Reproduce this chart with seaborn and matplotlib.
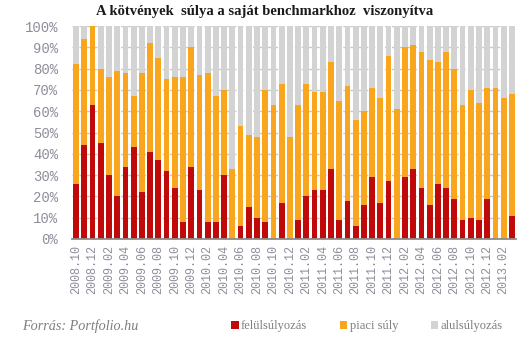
import matplotlib
matplotlib.use("Agg")
import matplotlib.pyplot as plt
import seaborn as sns
import numpy as np
import pandas as pd
from matplotlib.patches import Patch

months = ["2008.10", "2008.11", "2008.12", "2009.01", "2009.02", "2009.03", "2009.04", "2009.05",
          "2009.06", "2009.07", "2009.08", "2009.09", "2009.10", "2009.11", "2009.12", "2010.01",
          "2010.02", "2010.03", "2010.04", "2010.05", "2010.06", "2010.07", "2010.08", "2010.09",
          "2010.10", "2010.11", "2010.12", "2011.01", "2011.02", "2011.03", "2011.04", "2011.05",
          "2011.06", "2011.07", "2011.08", "2011.09", "2011.10", "2011.11", "2011.12", "2012.01",
          "2012.02", "2012.03", "2012.04", "2012.05", "2012.06", "2012.07", "2012.08", "2012.09",
          "2012.10", "2012.11", "2012.12", "2013.01", "2013.02", "2013.03"]

felul = [26, 44, 63, 45, 30, 20, 34, 43, 22, 41, 37, 32, 24, 8, 34, 23, 8, 8, 30, 0,
         6, 15, 10, 8, 0, 17, 0, 9, 20, 23, 23, 33, 9, 18, 6, 16, 29, 17, 27, 0,
         29, 33, 24, 16, 26, 24, 19, 9, 10, 9, 19, 0, 0, 11]
piaci = [56, 50, 37, 35, 46, 59, 44, 24, 56, 51, 48, 43, 52, 68, 56, 54, 70, 59, 40, 33,
         47, 34, 38, 62, 63, 56, 48, 54, 53, 46, 46, 50, 56, 54, 50, 44, 42, 49, 59, 61,
         61, 58, 64, 68, 57, 64, 61, 54, 60, 55, 52, 71, 66, 57]
alul = [18, 6, 0, 20, 24, 21, 22, 33, 22, 8, 15, 25, 24, 24, 10, 23, 22, 33, 30, 67,
        47, 51, 52, 30, 37, 27, 52, 37, 27, 31, 31, 17, 35, 28, 44, 40, 29, 34, 14, 39,
        10, 9, 12, 16, 17, 12, 20, 37, 30, 36, 29, 29, 34, 32]

series_names = ["felülsúlyozás", "piaci súly", "alulsúlyozás"]
colors = ["#C00A0A", "#F9A61E", "#D3D3D3"]

df = pd.DataFrame({"month": months, "felul": felul, "piaci": piaci, "alul": alul})
df["c1"] = df["felul"]
df["c2"] = df["felul"] + df["piaci"]
df["c3"] = df["c2"] + df["alul"]

sns.set_theme(style="white")
plt.rcParams["font.family"] = ["DejaVu Sans"]

fig = plt.figure(figsize=(5.31, 3.42), dpi=100)
ax = fig.add_axes([72 / 531, 1 - 239 / 342, 444 / 531, 213 / 342])

for col, c in zip(["c3", "c2", "c1"], [colors[2], colors[1], colors[0]]):
    sns.barplot(data=df, x="month", y=col, color=c, width=0.7, saturation=1,
                ax=ax, linewidth=0, errorbar=None)

tick_color = "#8E8E9C"
ax.set_xlim(-0.5, len(months) - 0.5)
ax.set_ylim(0, 100)
ax.set_yticks(np.arange(0, 101, 10))
ax.set_yticklabels([f"{v}%" for v in range(0, 101, 10)],
                   fontfamily="Liberation Mono", fontsize=10, color=tick_color)
ax.set_xticks(range(0, len(months), 2))
ax.set_xticklabels(months[::2], rotation=90, fontfamily="Liberation Mono",
                   fontsize=8.5, color=tick_color)
ax.tick_params(axis="both", length=0, pad=4)
ax.tick_params(axis="y", pad=10)
ax.set_xlabel("")
ax.set_ylabel("")
ax.yaxis.grid(True, color="#C8C8C8", linestyle=(0, (3, 2)), linewidth=1)
ax.set_axisbelow(True)
for s in ["left", "right", "top"]:
    ax.spines[s].set_visible(False)
ax.spines["bottom"].set_color("#8C8C8C")
ax.spines["bottom"].set_linewidth(1.3)

fig.text(265 / 531, 1 - 12 / 342, "A kötvények  súlya a saját benchmarkhoz  viszonyítva",
         ha="center", va="center", fontfamily="Liberation Serif", fontweight="bold",
         fontsize=10.5, color="#1A1A1A")
fig.text(22 / 531, 1 - 326 / 342, "Forrás: Portfolio.hu", ha="left", va="center",
         fontfamily="Liberation Serif", fontstyle="italic", fontsize=10.2, color="#7F7F7F")

handles = [Patch(facecolor=c, edgecolor="none") for c in colors]
leg = fig.legend(handles, series_names, loc="center left", bbox_to_anchor=(231 / 531, 1 - 326 / 342),
                 ncol=3, frameon=False, handlelength=0.6, handleheight=0.6, handletextpad=0.2,
                 columnspacing=2.6, prop={"family": "Liberation Serif", "size": 9},
                 borderaxespad=0, borderpad=0)
for t in leg.get_texts():
    t.set_color("#7F7F7F")

fig.savefig("out.png", dpi=100)
